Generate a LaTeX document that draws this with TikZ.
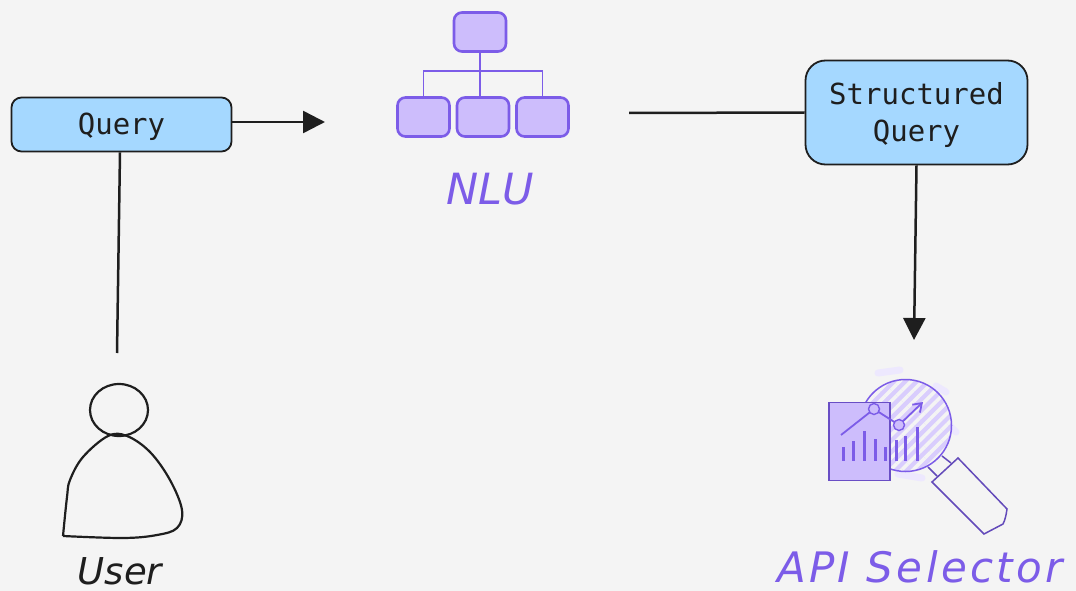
\documentclass[tikz,border=0pt]{standalone}
\usepackage{fontspec}
\usepackage{xcolor}
\usetikzlibrary{arrows.meta, patterns.meta, positioning, shapes.geometric}
\setmonofont{DejaVu Sans Mono}
\newfontfamily\handfont{DejaVu Sans}
\definecolor{pageGray}{HTML}{F4F4F4}
\definecolor{boxBlue}{HTML}{A5D8FF}
\definecolor{inkDark}{HTML}{1E1E1E}
\definecolor{nluViolet}{HTML}{7C5CE8}
\definecolor{nluFill}{HTML}{CDBDFC}
\newcommand{\lowerline}{\rule{0pt}{27pt}}

\begin{document}
\begin{tikzpicture}[x=1pt, y=-1pt, node distance=59.5pt, on grid,
    query/.style={rectangle, rounded corners=10pt, draw=inkDark, line width=1.8pt, fill=boxBlue, align=center, font=\ttfamily\fontsize{29}{37}\selectfont, text=inkDark},
    tree/.style={rectangle, rounded corners=8pt, draw=nluViolet, line width=2.6pt, fill=nluFill, minimum width=52pt, minimum height=39pt, inner sep=0pt},
    flow/.style={draw=inkDark, line width=2.5pt},
    tip/.style={-{Triangle[length=22pt, width=22pt]}},
    caption/.style={font=\handfont\itshape\fontsize{43}{43}\selectfont, text=nluViolet, inner sep=0pt, anchor=base},
    person/.style={draw=inkDark, line width=2.2pt, line join=round},
    dot/.style={circle, draw=nluViolet, line width=1.4pt, fill=nluFill, minimum size=11pt, inner sep=0pt},
    smear/.style={draw=nluFill!35, line width=7pt, line cap=round},
    bar/.style={draw=nluViolet, line width=3pt}]

    \fill[pageGray] (0,0) rectangle (1076,591);
    \useasboundingbox (0,0) rectangle (1076,591);

    % boxes
    \node[query, minimum width=220pt, minimum height=54pt] (Query) at (121.5,124.5) {\lowerline Query};
    \node[query, minimum width=222pt, minimum height=104pt, rounded corners=20pt] (Struct) at (916.5,112.5) {\lowerline Structured\\Query};

    % NLU
    \node[tree] (Root) at (480,32) {};
    \node[tree] (Leaf2) at (483,117) {};
    \node[tree, left=of Leaf2] (Leaf1) {};
    \node[tree, right=of Leaf2] (Leaf3) {};
    \coordinate (Bus) at (480,71);
    \draw[draw=nluViolet, line width=1.8pt]
        (Root.south) -- (Root.south |- Leaf2.north)
        (Leaf1.north) |- (Bus) -| (Leaf3.north);
    \node[caption] (Nlu) at (490,204) {NLU};

    % user
    \node[draw=inkDark, line width=2.2pt, ellipse, minimum width=58pt, minimum height=52pt, inner sep=0pt] (Head) at (119,410) {};
    \draw[person] plot[smooth, tension=0.6] coordinates {(63,536) (67,497) (70,480) (83,457) (108,436) (127,436) (150,452) (170,480) (182,510) (177,528) (157,535) (123,538) (63,536)};
    \node[caption, text=inkDark, font=\handfont\itshape\fontsize{37}{37}\selectfont] (User) at (120,584) {User};

    % selector
    \draw[smear] (878,373) -- (900,370);
    \draw[smear] (936,386) -- (946,392);
    \draw[smear] (950,426) -- (956,432);
    \draw[smear] (898,474) -- (922,478);
    \node[circle, draw=nluViolet, line width=1.5pt, preaction={fill=nluFill!75}, pattern={Lines[angle=45, distance=8pt, line width=3.5pt]}, pattern color=pageGray, minimum size=92pt, inner sep=0pt] (Lens) at (905.5,425.5) {};
    \draw[draw=nluViolet!80!black, line width=1.5pt, fill=pageGray] (932,482) -- (958,458) -- (1007,509)
        .. controls (1006,516) and (1005,520) .. (1003,524) -- (984,534) -- cycle;
    \draw[draw=nluViolet!80!black, line width=1.5pt] (928,467) -- (937,476) (942,456) -- (951,463);
    \node[rectangle, draw=nluViolet!85!black, line width=1.5pt, fill=nluFill, minimum width=61pt, minimum height=78pt, inner sep=0pt] (Sheet) at (859.5,441.5) {};
    \coordinate (Start) at (841,435);
    \coordinate (End) at (923,402);
    \draw[draw=nluViolet, line width=1.8pt] (Start) -- (874,409) -- (899,425);
    \draw[draw=nluViolet, line width=1.8pt, -{Straight Barb[length=8pt, width=11pt]}] (899,425) -- (End);
    \node[dot] (Dot1) at (874,409) {};
    \node[dot] (Dot2) at (899,425) {};
    \foreach \px/\ptop in {843/447, 853/441, 864/431, 875/439, 885/447, 896/440, 905/436, 917/427}
        \draw[bar] (\px,\ptop) -- (\px,461);
    \node[caption, font=\handfont\itshape\addfontfeature{LetterSpace=8}\fontsize{42}{42}\selectfont] (Selector) at (920,582) {API Selector};

    % connectors
    \coordinate (QueryEnd) at (325,122);
    \coordinate (UserTop) at (117,353);
    \coordinate (NluOut) at (629,113);
    \coordinate (SelectorIn) at (914,340);
    \draw[flow, tip] (Query.east |- QueryEnd) -- (QueryEnd);
    \draw[flow] ([xshift=-1.5pt]Query.south) -- (UserTop);
    \draw[flow] (NluOut) -- (Struct.west);
    \draw[flow, tip] (Struct.south) -- (SelectorIn);

\end{tikzpicture}
\end{document}
